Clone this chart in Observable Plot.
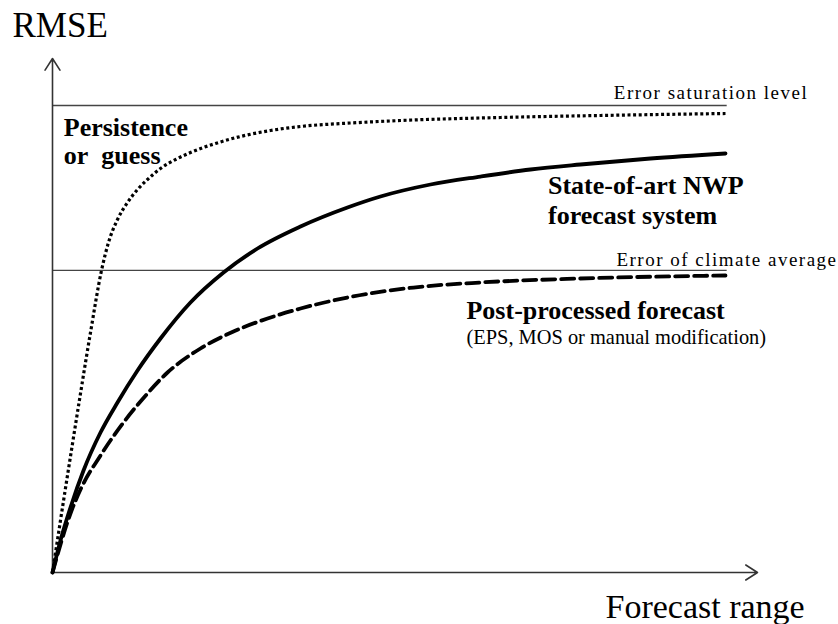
<!DOCTYPE html>
<html><head><meta charset="utf-8">
<script src="https://cdn.jsdelivr.net/npm/d3@7"></script>
<script src="https://cdn.jsdelivr.net/npm/@observablehq/plot@0.6"></script>
<style>
html,body{margin:0;padding:0;background:#fff;}
#chart svg text{font-family:"Liberation Serif",serif;}
</style>
</head><body><div id="chart"></div>
<script>
// Forecast range (arbitrary units 0–100) and RMSE (arbitrary units 0–100)
const persistenceX = [0, 1.13, 2.55, 3.97, 5.39, 6.95, 7.94, 9.22, 10.64, 12.06, 13.48, 15.32, 17.45, 19.57, 23.12, 26.67, 30.92, 35.18, 42.27, 49.36, 63.55, 77.73, 95.46];
const persistenceY = [0, 10.16, 22.66, 34.96, 46.88, 58.98, 64.45, 68.95, 72.27, 74.80, 76.76, 78.91, 80.66, 82.03, 83.79, 85.16, 86.33, 87.11, 87.79, 88.28, 88.87, 89.26, 89.65];

const nwpX = [0, 1.13, 2.55, 4.40, 6.81, 9.22, 12.06, 15.32, 19.57, 24.26, 29.08, 35.18, 41.84, 46.52, 53.62, 60.71, 67.80, 74.89, 84.82, 95.46];
const nwpY = [0, 6.25, 12.70, 19.92, 27.34, 33.20, 39.45, 45.70, 52.73, 58.59, 63.28, 67.58, 71.29, 73.44, 75.78, 77.34, 78.71, 79.69, 80.86, 81.84];

const postX = [0, 2.55, 3.97, 6.81, 10.07, 12.48, 16.31, 20.99, 25.67, 30.50, 35.18, 41.84, 51.21, 60.71, 74.89, 95.46];
const postY = [0, 11.52, 16.21, 22.85, 29.30, 33.40, 39.06, 43.75, 47.07, 49.61, 51.56, 53.71, 55.66, 56.64, 57.42, 58.01];

const saturationLevel = 91.2;
const climateLevel = 59.0;
const referenceEnd = 95.7;

const axisTitles = ["RMSE", "Forecast range"];
const referenceLabels = ["Error saturation level", "Error of climate average"];
const curveLabels = ["Persistence", "or\u00a0 guess", "State-of-art NWP", "forecast system", "Post-processed forecast"];
const noteLabel = "(EPS, MOS or manual modification)";

const toRows = (xs, ys) => xs.map((x, i) => ({x, y: ys[i]}));
const persistence = toRows(persistenceX, persistenceY);
const nwp = toRows(nwpX, nwpY);
const post = toRows(postX, postY);

const serif = "Liberation Serif";

const label = (txt, x, y, opts) => Plot.text([txt], {x, y, text: d => d, lineAnchor: "bottom", fill: "black", fontFamily: serif, ...opts});

const chart = Plot.plot({
  width: 838,
  height: 624,
  marginLeft: 52,
  marginRight: 81,
  marginTop: 60,
  marginBottom: 52,
  x: {domain: [0, 100], axis: null},
  y: {domain: [0, 100], axis: null},
  style: {background: "white", fontFamily: serif, color: "black"},
  marks: [
    // reference levels
    Plot.ruleY([saturationLevel, climateLevel], {x1: 0, x2: referenceEnd, stroke: "#444", strokeWidth: 1.4}),
    // axes with arrows
    Plot.arrow([{x1: 0, y1: 0, x2: 100, y2: 0}], {x1: "x1", y1: "y1", x2: "x2", y2: "y2", stroke: "#333", strokeWidth: 1.6, headLength: 13, headAngle: 65}),
    Plot.arrow([{x1: 0, y1: 0, x2: 0, y2: 100.4}], {x1: "x1", y1: "y1", x2: "x2", y2: "y2", stroke: "#333", strokeWidth: 1.6, headLength: 13, headAngle: 65}),
    // curves
    Plot.line(persistence, {x: "x", y: "y", curve: "monotone-x", stroke: "black", strokeWidth: 3.2, strokeDasharray: "3,2.6", strokeLinecap: "butt"}),
    Plot.line(nwp, {x: "x", y: "y", curve: "monotone-x", stroke: "black", strokeWidth: 3.8}),
    Plot.line(post, {x: "x", y: "y", curve: "monotone-x", stroke: "black", strokeWidth: 3.8, strokeDasharray: "13,6"}),
    // axis titles
    label(axisTitles[0], -5.67, 104.5, {textAnchor: "start", fontSize: 35}),
    label(axisTitles[1], 78.44, -8.79, {textAnchor: "start", fontSize: 34}),
    // reference labels
    label(referenceLabels[0], 107.2, 92.4, {textAnchor: "end", fontSize: 19}),
    label(referenceLabels[1], 111.35, 59.8, {textAnchor: "end", fontSize: 19}),
    // curve labels
    label(curveLabels[0], 1.60, 85.16, {textAnchor: "start", fontSize: 26, fontWeight: "bold"}),
    label(curveLabels[1], 1.60, 79.79, {textAnchor: "start", fontSize: 26, fontWeight: "bold"}),
    label(curveLabels[2], 70.28, 73.93, {textAnchor: "start", fontSize: 26, fontWeight: "bold"}),
    label(curveLabels[3], 70.28, 68.07, {textAnchor: "start", fontSize: 26, fontWeight: "bold"}),
    label(curveLabels[4], 58.72, 49.51, {textAnchor: "start", fontSize: 26, fontWeight: "bold"}),
    label(noteLabel, 58.72, 44.63, {textAnchor: "start", fontSize: 20.4})
  ]
});

d3.select(chart).selectAll("text")
  .filter(function() { return this.textContent.startsWith("Error"); })
  .style("letter-spacing", "1.5px");

document.getElementById("chart").appendChild(chart);
</script>
</body></html>
